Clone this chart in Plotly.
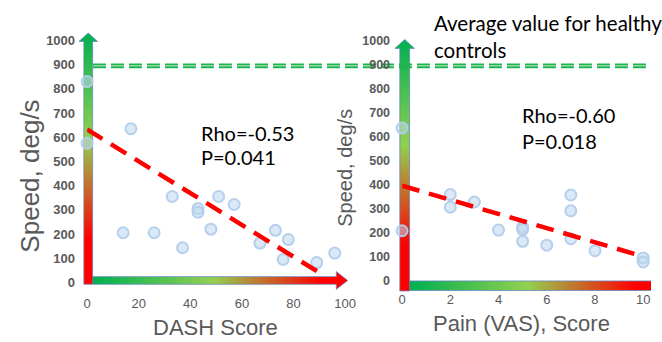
import plotly.graph_objects as go

W, H = 662, 342

# ---- data -------------------------------------------------------------
dash_score = [0, 0, 14, 17, 26, 33, 37, 43, 43, 48, 51, 57, 67, 73, 76, 78, 89, 96]
dash_speed = [830, 575, 205, 635, 205, 355, 143, 305, 290, 220, 355, 322, 162, 215, 95, 177, 82, 121]

pain_score = [0, 0, 2, 2, 3, 4, 5, 5, 5, 6, 7, 7, 7, 8, 10, 10]
pain_speed = [635, 207, 358, 305, 327, 210, 222, 212, 163, 147, 356, 290, 174, 124, 94, 77]

dash_fit_x = [0, 92]
dash_fit_y = [632, 27]
pain_fit_x = [0, 10]
pain_fit_y = [395, 100]

healthy_speed = 895

speed_ticks = [0, 100, 200, 300, 400, 500, 600, 700, 800, 900, 1000]
dash_ticks = [0, 20, 40, 60, 80, 100]
pain_ticks = [0, 2, 4, 6, 8, 10]

# ---- panel geometry (pixel placement of each axis range) --------------
panels = {
    "left": dict(x_px=(85, 349), x_range=(0, 100), y_px=(288, 35), y_range=(0, 1000)),
    "right": dict(x_px=(407.3, 654), x_range=(0, 10), y_px=(286, 35), y_range=(0, 1000)),
}


def to_px(p, x=None, y=None):
    out = []
    if x is not None:
        (a, b), (r0, r1) = p["x_px"], p["x_range"]
        out.append(a + (x - r0) / (r1 - r0) * (b - a))
    if y is not None:
        (a, b), (r0, r1) = p["y_px"], p["y_range"]
        out.append(a + (y - r0) / (r1 - r0) * (b - a))
    return out[0] if len(out) == 1 else tuple(out)


# vertical: 0 = bottom (red) -> 1 = top (green)
VSCALE = [[0, "#ff0000"], [0.18, "#ff0000"], [0.58, "#92d050"], [1, "#00b050"]]
# horizontal: 0 = left (green) -> 1 = right (red)
HSCALE = [[0, "#00b050"], [0.47, "#92d050"], [0.9, "#ff0000"], [1, "#ff0000"]]
OUTLINE = "rgba(96,134,192,0.75)"
GREEN_DASH = "#1fb34e"
GREY = "#595959"

fig = go.Figure()


def arrow_v(x0, x1, bottom, base, tip, hw):
    cx = (x0 + x1) / 2
    xs = [x0, x0, cx - hw, cx, cx + hw, x1, x1, x0]
    ys = [bottom, base, base, tip, base, base, bottom, bottom]
    return xs, ys


def arrow_h(y0, y1, left, base, tip, hh, head=True):
    cy = (y0 + y1) / 2
    if head:
        xs = [left, base, base, tip, base, base, left, left]
        ys = [y0, y0, cy - hh, cy, cy + hh, y1, y1, y0]
    else:
        xs = [left, tip, tip, left, left]
        ys = [y0, y0, y1, y1, y0]
    return xs, ys


def add_gradient_shape(xs, ys, kind, scale):
    fig.add_trace(go.Scatter(
        x=xs, y=ys, mode="lines", fill="toself",
        fillgradient=dict(type=kind, colorscale=scale),
        line=dict(color=OUTLINE, width=1),
        hoverinfo="skip", showlegend=False, xaxis="x", yaxis="y",
    ))


# ---- gradient axis arrows (drawn on a full-figure pixel layer) ---------
# left panel
ox, oy = to_px(panels["left"], 0, 0)
top_px = to_px(panels["left"], y=1000)
right_px = to_px(panels["left"], x=100)
vx0, vx1 = ox - 3.3, ox + 5.7
xs, ys = arrow_h(oy - 6, oy + 2, vx1, right_px - 9, right_px + 2.7, 9.3)
add_gradient_shape(xs, ys, "horizontal", HSCALE)
xs, ys = arrow_v(vx0, vx1, oy + 2, top_px + 1, top_px - 7.7, 9.5)
add_gradient_shape(xs, ys, "vertical", VSCALE)

# right panel
ox, oy = to_px(panels["right"], 0, 0)
top_px = to_px(panels["right"], y=1000)
vx0, vx1 = ox - 2.3, ox + 7.7
xs, ys = arrow_h(oy + 0.5, oy + 10.5, vx1, W + 10, W + 10, 0, head=False)
add_gradient_shape(xs, ys, "horizontal", HSCALE)
xs, ys = arrow_v(vx0, vx1, oy + 11, top_px + 8.3, top_px - 1, 10)
add_gradient_shape(xs, ys, "vertical", VSCALE)

# healthy-controls reference line (double dashed, spans both panels)
hy = to_px(panels["left"], y=healthy_speed)
line_start = to_px(panels["left"], x=0) + 6
for off in (-1.5, 1.5):
    fig.add_trace(go.Scatter(
        x=[line_start, W + 5], y=[hy + off, hy + off], mode="lines",
        line=dict(color=GREEN_DASH, width=2, dash="13px,5px"),
        hoverinfo="skip", showlegend=False, xaxis="x", yaxis="y",
    ))

# ---- data panels -------------------------------------------------------
marker = dict(size=11, color="rgba(189,215,238,0.55)",
              line=dict(color="rgba(178,206,235,0.95)", width=2))
fit_line = dict(color="#ff0000", width=4.5, dash="18px,10px")

fig.add_trace(go.Scatter(x=dash_score, y=dash_speed, mode="markers", marker=marker,
                         cliponaxis=False, showlegend=False, xaxis="x2", yaxis="y2"))
fig.add_trace(go.Scatter(x=dash_fit_x, y=dash_fit_y, mode="lines", line=fit_line,
                         showlegend=False, xaxis="x2", yaxis="y2"))
fig.add_trace(go.Scatter(x=pain_score, y=pain_speed, mode="markers", marker=marker,
                         cliponaxis=False, showlegend=False, xaxis="x3", yaxis="y3"))
fig.add_trace(go.Scatter(x=pain_fit_x, y=pain_fit_y, mode="lines", line=fit_line,
                         showlegend=False, xaxis="x3", yaxis="y3"))


def xdom(p):
    return [p["x_px"][0] / W, p["x_px"][1] / W]


def ydom(p):
    return [1 - p["y_px"][0] / H, 1 - p["y_px"][1] / H]


ytick_font = dict(family="Liberation Sans", size=13, color=GREY, weight="bold")
xtick_font = dict(family="Liberation Sans", size=13, color=GREY)
common = dict(showgrid=False, zeroline=False, showline=False, ticks="", fixedrange=True)

L, R = panels["left"], panels["right"]
fig.update_layout(
    width=W, height=H,
    margin=dict(l=0, r=0, t=0, b=0),
    paper_bgcolor="white", plot_bgcolor="rgba(0,0,0,0)",
    xaxis=dict(domain=[0, 1], range=[0, W], visible=False, fixedrange=True),
    yaxis=dict(domain=[0, 1], range=[H, 0], visible=False, fixedrange=True),
    xaxis2=dict(domain=xdom(L), range=list(L["x_range"]), anchor="y2",
                tickvals=dash_ticks, tickfont=xtick_font, ticklabelstandoff=12, **common),
    yaxis2=dict(domain=ydom(L), range=list(L["y_range"]), anchor="x2",
                tickvals=speed_ticks, tickfont=ytick_font, ticklabelstandoff=11, **common),
    xaxis3=dict(domain=xdom(R), range=list(R["x_range"]), anchor="y3",
                tickvals=pain_ticks, tickfont=xtick_font, ticklabelstandoff=10, **common),
    yaxis3=dict(domain=ydom(R), range=list(R["y_range"]), anchor="x3",
                tickfont=dict(ytick_font, size=12.5), tickvals=speed_ticks,
                ticklabelstandoff=11, **common),
)


def note(text, x, y, size, family="Liberation Sans", color=GREY, angle=0,
         xanchor="center", align="center"):
    fig.add_annotation(text=text, x=x / W, y=1 - y / H, xref="paper", yref="paper",
                       showarrow=False, textangle=angle, xanchor=xanchor,
                       yanchor="middle", align=align, borderpad=0,
                       font=dict(family=family, size=size, color=color))


note("Speed, deg/s", 27, 177, 26, angle=-90)
note("Speed, deg/s", 349, 168, 20, angle=-90)
note("DASH Score", 216.5, 335, 22)
note("Pain (VAS), Score", 530, 331, 22)

note("Rho=-0.53", 201, 132, 20, family="Lato", color="black", xanchor="left")
note("P=0.041", 201, 157, 20, family="Lato", color="black", xanchor="left")
note("Rho=-0.60", 529, 112.5, 20, family="Lato", color="black", xanchor="left")
note("P=0.018", 529, 140.5, 20, family="Lato", color="black", xanchor="left")
note("Average value for healthy<br>controls", 439, 31, 20.5, family="Lato",
     color="black", xanchor="left", align="left")

fig.write_html("out.html")
